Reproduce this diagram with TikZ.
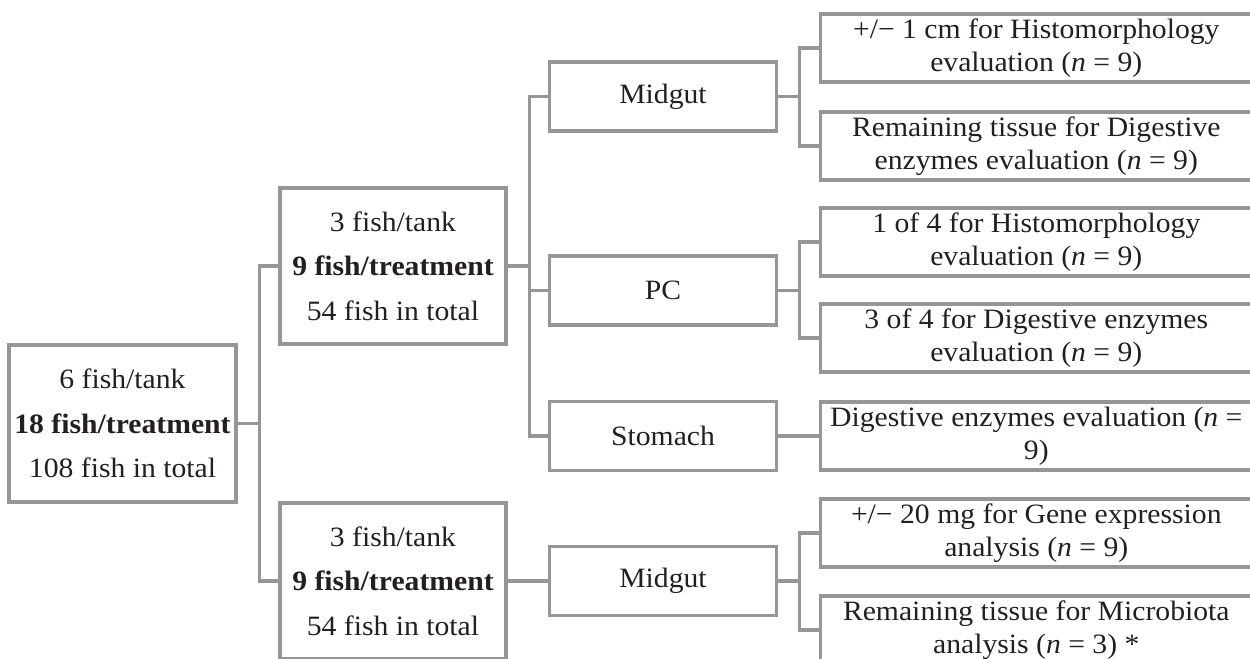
\documentclass[tikz,border=0pt]{standalone}
\usepackage{fontspec}
\setmainfont{Liberation Serif}[FakeStretch=1.06]
\definecolor{linegray}{RGB}{150,150,150}
\definecolor{inkdark}{RGB}{35,31,32}

\begin{document}
\begin{tikzpicture}[x=0.5pt,y=-0.5pt]
\tikzstyle{every node}+=[inner sep=0pt, text=inkdark]
\tikzstyle{box}=[draw=linegray, line width=1.6pt, align=center, font=\fontsize{14}{16.5}\selectfont]
\tikzstyle{group}=[box, minimum width=113pt, minimum height=78pt, font=\fontsize{14}{22.25}\selectfont]
\tikzstyle{organ}=[box, minimum width=113.25pt, minimum height=34.5pt]
\tikzstyle{result}=[box, minimum width=215.7pt, minimum height=34pt]
\tikzstyle{link}=[draw=linegray, line width=1.6pt]
\clip (0,0) rectangle (1250,659);
% fish
\node [group, minimum width=113.5pt, minimum height=78.5pt] (root) at (122.5,423.5) {6 fish/tank\\\textbf{18 fish/treatment}\\108 fish in total};
\node [group] (grpA) at (393,266) {3 fish/tank\\\textbf{9 fish/treatment}\\54 fish in total};
\node [group] (grpB) at (393,581) {3 fish/tank\\\textbf{9 fish/treatment}\\54 fish in total};
% tissues
\node [organ] (midA) at (663,96.5) {Midgut};
\node [organ] (pc) at (663,290.5) {PC};
\node [organ] (stom) at (663,436) {Stomach};
\node [organ] (midB) at (663,581) {Midgut};
% analyses
\node [result] (histoA) at (1036.3,48) {+/− 1 cm for Histomorphology\\evaluation (\textit{n} = 9)};
\node [result] (enzA) at (1036.3,146) {Remaining tissue for Digestive\\enzymes evaluation (\textit{n} = 9)};
\node [result] (histoB) at (1036.3,242) {1 of 4 for Histomorphology\\evaluation (\textit{n} = 9)};
\node [result] (enzB) at (1036.3,338) {3 of 4 for Digestive enzymes\\evaluation (\textit{n} = 9)};
\node [result] (enzC) at (1036.3,436) {Digestive enzymes evaluation (\textit{n} =\\9)};
\node [result] (gene) at (1036.3,533) {+/− 20 mg for Gene expression\\analysis (\textit{n} = 9)};
\node [result] (micro) at (1036.3,630) {Remaining tissue for Microbiota\\analysis (\textit{n} = 3) *};
% links
\draw [link] (root.east) -- ++(11pt,0) |- (grpA.west);
\draw [link] (root.east) -- ++(11pt,0) |- (grpB.west);
\draw [link] (grpA.east) -- ++(11pt,0) |- (midA.west);
\draw [link] (grpA.east) -- ++(11pt,0) |- (pc.west);
\draw [link] (grpA.east) -- ++(11pt,0) |- (stom.west);
\draw [link] (grpB.east) -- (midB.west);
\draw [link] (midA.east) -- ++(11pt,0) |- (histoA.west);
\draw [link] (midA.east) -- ++(11pt,0) |- (enzA.west);
\draw [link] (pc.east) -- ++(11pt,0) |- (histoB.west);
\draw [link] (pc.east) -- ++(11pt,0) |- (enzB.west);
\draw [link] (stom.east) -- (enzC.west);
\draw [link] (midB.east) -- ++(11pt,0) |- (gene.west);
\draw [link] (midB.east) -- ++(11pt,0) |- (micro.west);
\end{tikzpicture}
\end{document}
